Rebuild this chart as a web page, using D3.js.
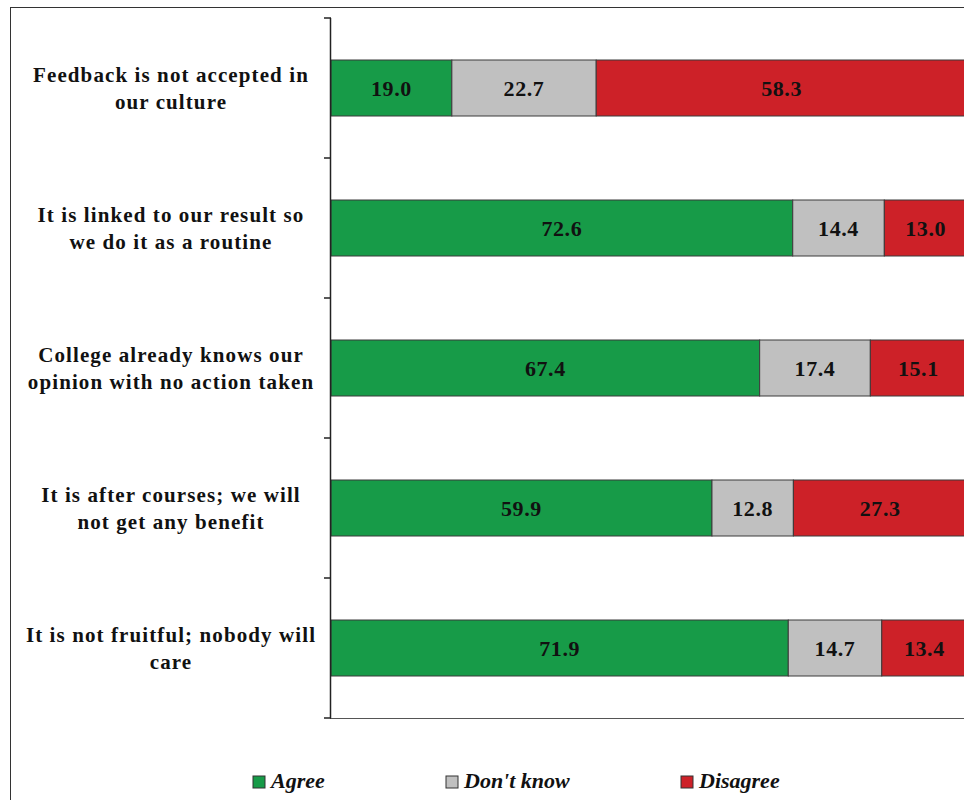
<!DOCTYPE html>
<html><head><meta charset="utf-8">
<script src="https://cdn.jsdelivr.net/npm/d3@7"></script>
<style>body{margin:0;background:#fff}svg{display:block}</style>
</head><body>
<svg id="c" width="964" height="800"></svg>
<script>
const categories = [
  ["Feedback is not accepted in", "our culture"],
  ["It is linked to our result so", "we do it as a routine"],
  ["College already knows our", "opinion with no action taken"],
  ["It is after courses; we will", "not get any benefit"],
  ["It is not fruitful; nobody will", "care"]
];
const seriesNames = ["Agree", "Don't know", "Disagree"];
const agree = [19.0, 72.6, 67.4, 59.9, 71.9];
const dontKnow = [22.7, 14.4, 17.4, 12.8, 14.7];
const disagree = [58.3, 13.0, 15.1, 27.3, 13.4];
const colors = ["#179b48", "#c0c0c0", "#cd2128"];

const svg = d3.select("#c");
const serif = "'Liberation Serif','Times New Roman',serif";

// outer frame
svg.append("rect").attr("x", 10.5).attr("y", 7.5).attr("width", 980).attr("height", 800)
  .attr("fill", "none").attr("stroke", "#333").attr("stroke-width", 1);

const idx = d3.range(categories.length);
const y = d3.scaleBand().domain(idx).range([18, 718]).paddingInner(0.6).paddingOuter(0.3);
const x = d3.scaleLinear().domain([0, 100]).range([331, 967]);

const data = idx.map(i => ({i, vals: [agree[i], dontKnow[i], disagree[i]]}));
const stack = data.map(d => {
  let acc = 0;
  return d.vals.map((v, k) => { const s = {i: d.i, k, v, x0: acc, x1: acc + v}; acc += v; return s; });
}).flat();

const g = svg.append("g");
g.selectAll("rect.bar").data(stack).join("rect").attr("class", "bar")
  .attr("x", d => x(d.x0)).attr("width", d => x(d.x1) - x(d.x0))
  .attr("y", d => y(d.i)).attr("height", y.bandwidth())
  .attr("fill", d => colors[d.k]).attr("stroke", "#3a3a3a").attr("stroke-width", 1);

g.selectAll("text.val").data(stack).join("text").attr("class", "val")
  .attr("x", d => (x(d.x0) + x(d.x1)) / 2).attr("y", d => y(d.i) + y.bandwidth() / 2 + 8)
  .attr("text-anchor", "middle")
  .attr("font-family", serif).attr("font-weight", "bold").attr("font-size", 22)
  .attr("letter-spacing", 0.6)
  .attr("fill", "#111").text(d => d.v.toFixed(1));

// axes
const yAxisScale = d3.scaleLinear().domain([0, categories.length]).range([18, 718]);
svg.append("line").attr("x1", 330.5).attr("x2", 330.5).attr("y1", 18).attr("y2", 718)
  .attr("stroke", "#222").attr("stroke-width", 1.5);
svg.append("line").attr("x1", 330).attr("x2", 970).attr("y1", 718.5).attr("y2", 718.5)
  .attr("stroke", "#555").attr("stroke-width", 1.2);
svg.selectAll("line.tick").data(d3.range(categories.length + 1)).join("line").attr("class", "tick")
  .attr("x1", 324).attr("x2", 331).attr("y1", d => yAxisScale(d)).attr("y2", d => yAxisScale(d))
  .attr("stroke", "#222").attr("stroke-width", 1.5);

// category labels
const lab = svg.selectAll("text.cat").data(idx).join("text").attr("class", "cat")
  .attr("text-anchor", "middle").attr("font-family", serif).attr("font-weight", "bold")
  .attr("font-size", 21).attr("fill", "#111")
  .attr("letter-spacing", 1.1);
lab.each(function(i) {
  const t = d3.select(this);
  const cy = y(i) + y.bandwidth() / 2;
  categories[i].forEach((line, j) => {
    t.append("tspan").attr("x", 171).attr("y", cy - 6 + j * 27).text(line);
  });
});

// legend
const legX = [253, 446, 681];
const leg = svg.selectAll("g.leg").data(seriesNames).join("g").attr("class", "leg")
  .attr("transform", (d, k) => `translate(${legX[k]},776)`);
leg.append("rect").attr("width", 12).attr("height", 12)
  .attr("fill", (d, k) => colors[k]).attr("stroke", "#333").attr("stroke-width", 1);
leg.append("text").attr("x", 18).attr("y", 12).attr("font-family", serif)
  .attr("font-weight", "bold").attr("font-style", "italic").attr("font-size", 22)
  .attr("fill", "#111").text(d => d);
</script>
</body></html>
